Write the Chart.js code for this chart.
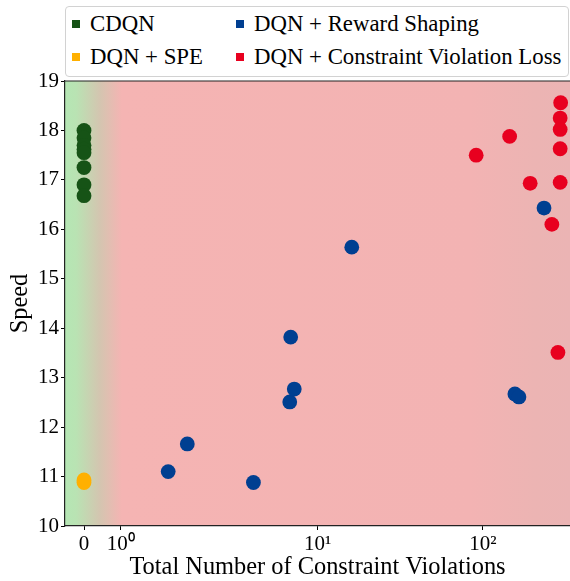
<!DOCTYPE html>
<html>
<head>
<meta charset="utf-8">
<script src="https://cdn.jsdelivr.net/npm/chart.js@4.4.1/dist/chart.umd.min.js"></script>
<style>
  html, body { margin: 0; padding: 0; background: #fff; }
  #wrap { position: relative; width: 570px; height: 581px; }
  #legend {
    position: absolute; left: 65px; top: 6px; width: 502px; height: 69px;
    border: 1px solid #d2d2d2; border-radius: 4px; background: #fff;
    font-family: "Liberation Serif", serif; font-size: 22.8px; color: #000;
  }
  .item { position: absolute; display: flex; align-items: center; white-space: nowrap; height: 30px; }
  .swatch { width: 8px; height: 8px; margin-right: 10px; }
</style>
</head>
<body>
<div id="wrap">
  <canvas id="chart" width="570" height="581"></canvas>
  <div id="legend"></div>
</div>
<script>
const seriesNames = ["CDQN", "DQN + SPE", "DQN + Reward Shaping", "DQN + Constraint Violation Loss"];
const seriesColors = ["#165316", "#ffb000", "#003f91", "#e8001f"];

const cdqnViolations = [0, 0, 0, 0, 0, 0, 0, 0];
const cdqnSpeed = [18.0, 17.85, 17.7, 17.62, 17.55, 17.25, 16.9, 16.68];

const speViolations = [0, 0];
const speSpeed = [10.93, 10.88];

const shapingViolations = [2.29, 2.81, 4.61, 6.79, 7.23, 6.88, 16.1, 234, 156, 165];
const shapingSpeed = [11.1, 11.66, 10.88, 12.51, 12.77, 13.82, 15.64, 16.43, 12.67, 12.61];

const lossViolations = [295, 293, 293, 293, 145, 91, 193, 293, 261, 284];
const lossSpeed = [18.56, 18.25, 18.02, 17.63, 17.88, 17.5, 16.93, 16.95, 16.1, 13.51];

const xTickValues = [0, 1, 10, 100];
const xTickLabels = ["0", "10\u2070", "10\u00b9", "10\u00b2"];
const yTickValues = [10, 11, 12, 13, 14, 15, 16, 17, 18, 19];

// symlog transform, linthresh 5, base 10 (like matplotlib)
const linthresh = 5;
const linscale = 1 / (1 - 1 / 10);
function symlog(v) {
    const a = Math.abs(v);
    const t = a <= linthresh ? a * linscale : linthresh * (linscale + Math.log10(a / linthresh));
    return Math.sign(v) * t;
}
function symexp(t) {
    const a = Math.abs(t);
    const v = a <= linthresh * linscale ? a / linscale : linthresh * Math.pow(10, a / linthresh - linscale);
    return Math.sign(t) * v;
}

class SymlogScale extends Chart.Scale {
    static id = 'symlog';
    static defaults = {};
    determineDataLimits() {
        this.min = this.options.min;
        this.max = this.options.max;
    }
    buildTicks() {
        return xTickValues.map(v => ({ value: v }));
    }
    configure() {
        super.configure();
        this._tStart = symlog(this.min);
        this._tRange = symlog(this.max) - this._tStart;
    }
    getLabelForValue(v) { return String(v); }
    getPixelForValue(v) {
        return this.getPixelForDecimal((symlog(v) - this._tStart) / this._tRange);
    }
    getValueForPixel(p) {
        return symexp(this._tStart + this.getDecimalForPixel(p) * this._tRange);
    }
}
Chart.register(SymlogScale);

function points(xs, ys) {
    return xs.map((x, i) => ({ x: x, y: ys[i] }));
}

const backgroundPlugin = {
    id: 'bg',
    beforeDraw(chart) {
        const { ctx, chartArea: a } = chart;
        const g = ctx.createLinearGradient(a.left, 0, a.right, 0);
        const w = a.right - a.left;
        const stop = px => Math.min(1, Math.max(0, (px - a.left) / w));
        g.addColorStop(0, '#b5e6b4');
        g.addColorStop(stop(76), '#b9e3b3');
        g.addColorStop(stop(100), '#d4c5b0');
        g.addColorStop(stop(122), '#f5b4b3');
        g.addColorStop(stop(470), '#f3b3b3');
        g.addColorStop(stop(535), '#ecb4b3');
        g.addColorStop(1, '#ebb4b4');
        ctx.save();
        ctx.fillStyle = g;
        ctx.fillRect(a.left, a.top, w, a.bottom - a.top);
        ctx.restore();
    },
    afterDraw(chart) {
        const { ctx, chartArea: a } = chart;
        ctx.save();
        ctx.strokeStyle = '#222';
        ctx.lineWidth = 1.2;
        ctx.beginPath();
        ctx.moveTo(a.left, a.top);
        ctx.lineTo(a.right, a.top);
        ctx.stroke();
        ctx.restore();
    }
};

const seriesData = [
    points(cdqnViolations, cdqnSpeed),
    points(speViolations, speSpeed),
    points(shapingViolations, shapingSpeed),
    points(lossViolations, lossSpeed)
];

const tickFont = { family: "Liberation Serif", size: 21 };
const titleFont = { family: "Liberation Serif", size: 24.4, lineHeight: 1.1 };

new Chart(document.getElementById('chart'), {
    type: 'scatter',
    data: {
        datasets: seriesNames.map((name, i) => ({
            label: name,
            data: seriesData[i],
            backgroundColor: seriesColors[i],
            borderWidth: 0,
            pointRadius: 7.4,
            pointHoverRadius: 7.4
        }))
    },
    options: {
        responsive: false,
        animation: false,
        events: [],
        layout: { autoPadding: false, padding: { top: 81, right: 0, left: 0, bottom: 0 } },
        plugins: { legend: { display: false }, tooltip: { enabled: false } },
        scales: {
            x: {
                type: 'symlog',
                min: -0.517,
                max: 336,
                grid: { drawOnChartArea: false, drawTicks: true, tickLength: 4, color: '#000' },
                border: { display: true, color: '#222', width: 1.2 },
                ticks: {
                    color: '#000', font: tickFont, padding: 2, maxRotation: 0, autoSkip: false,
                    callback: v => xTickLabels[xTickValues.indexOf(v)]
                },
                title: { display: true, text: 'Total Number of Constraint Violations', color: '#000', font: titleFont, padding: { top: 0, bottom: 0 } },
                afterFit: s => { s.height = 55; }
            },
            y: {
                min: 10,
                max: 19,
                afterBuildTicks: s => { s.ticks = yTickValues.map(v => ({ value: v })); },
                grid: { drawOnChartArea: false, drawTicks: true, tickLength: 4, color: '#000' },
                border: { display: true, color: '#222', width: 1.2 },
                ticks: { color: '#000', font: tickFont, padding: 2 },
                title: { display: true, text: 'Speed', color: '#000', font: titleFont, padding: { top: 7, bottom: 0 } },
                afterFit: s => { s.width = 65; }
            }
        }
    },
    plugins: [backgroundPlugin]
});

// legend, two columns like the original
const legend = document.getElementById('legend');
const legendPos = [[6, 2], [6, 35], [170, 2], [170, 35]];
seriesNames.forEach((name, i) => {
    const item = document.createElement('div');
    item.className = 'item';
    item.style.left = legendPos[i][0] + 'px';
    item.style.top = legendPos[i][1] + 'px';
    const sw = document.createElement('span');
    sw.className = 'swatch';
    sw.style.background = seriesColors[i];
    const label = document.createElement('span');
    label.textContent = name;
    item.appendChild(sw);
    item.appendChild(label);
    legend.appendChild(item);
});
</script>
</body>
</html>
